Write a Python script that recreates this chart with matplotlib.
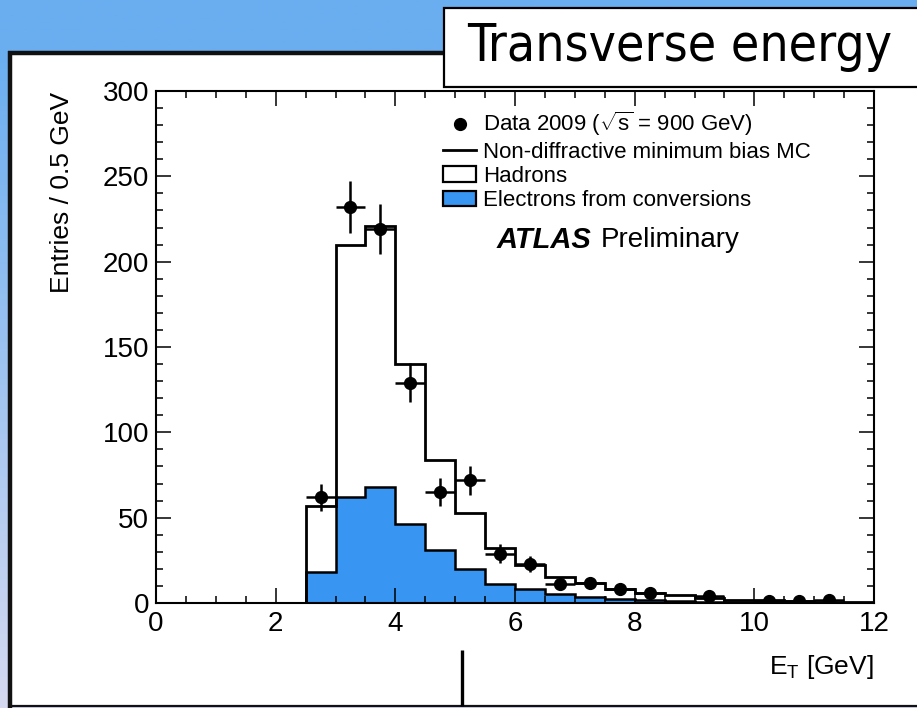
import numpy as np
import matplotlib
matplotlib.use("Agg")
import matplotlib.pyplot as plt
from matplotlib.lines import Line2D
from matplotlib.patches import Patch, Rectangle

# ---- histogram data (0.5 GeV bins) ----
bin_edges = [0.0, 0.5, 1.0, 1.5, 2.0, 2.5, 3.0, 3.5, 4.0, 4.5, 5.0, 5.5, 6.0,
             6.5, 7.0, 7.5, 8.0, 8.5, 9.0, 9.5, 10.0, 10.5, 11.0, 11.5, 12.0]
mc_total = [0, 0, 0, 0, 0, 57, 210, 221, 140, 84, 53, 32, 22,
            15.5, 12, 8, 6, 4.5, 3, 2, 1.5, 1, 0.8, 0.5]
mc_electrons = [0, 0, 0, 0, 0, 18, 62, 68, 46, 31, 20, 11, 8,
                5.5, 3.5, 2.5, 2, 1, 0.8, 0.5, 0.3, 0.2, 0.2, 0.1]

data_x = [2.75, 3.25, 3.75, 4.25, 4.75, 5.25, 5.75, 6.25, 6.75, 7.25,
          7.75, 8.25, 9.25, 10.25, 10.75, 11.25]
data_y = [62, 232, 219, 129, 65, 72, 29, 23, 11, 12, 8, 6, 4, 1, 1, 2]
data_err = [7.9, 15.2, 14.8, 11.4, 8.1, 8.5, 5.4, 4.8, 3.3, 3.5, 2.8,
            2.4, 2.0, 1.0, 1.0, 1.4]
data_xerr = 0.25

x_ticks = [0, 2, 4, 6, 8, 10, 12]
y_ticks = [0, 50, 100, 150, 200, 250, 300]

BLUE = "#3896f2"
W, H = 917, 708

plt.rcParams["font.family"] = ["Liberation Sans", "DejaVu Sans"]
plt.rcParams["mathtext.fontset"] = "custom"
plt.rcParams["mathtext.rm"] = "Liberation Sans"
plt.rcParams["mathtext.it"] = "Liberation Sans:italic"
plt.rcParams["mathtext.bf"] = "Liberation Sans:bold"

fig = plt.figure(figsize=(W / 100, H / 100), dpi=100)

# ---- slide background: blue band fading to lavender, white panel ----
bg = fig.add_axes([0, 0, 1, 1], zorder=-10)
bg.set_xlim(0, W)
bg.set_ylim(H, 0)
bg.axis("off")
top_col = np.array([106, 174, 240]) / 255
bot_col = np.array([214, 218, 240]) / 255
rows = np.linspace(0, 1, 300)
t = np.clip((rows * H - 50) / (H - 50), 0, 1)[:, None]
grad = top_col * (1 - t) + bot_col * t
bg.imshow(grad[:, None, :], extent=[0, W, H, 0], aspect="auto", zorder=0)

bg.add_patch(Rectangle((9.5, 53), W + 20, 652.5, facecolor="white",
                       edgecolor="none", zorder=1))
bg.plot([9.5, 9.5], [51, H + 2], color="#111111", lw=3.2, zorder=2,
        solid_capstyle="butt")
bg.plot([8, W + 2], [53, 53], color="#111111", lw=3.2, zorder=2,
        solid_capstyle="butt")
bg.plot([8, W + 2], [705.8, 705.8], color="#111111", lw=1.6, zorder=2,
        solid_capstyle="butt")
bg.plot([462, 462], [650, 706], color="black", lw=2.4, zorder=2,
        solid_capstyle="butt")

# title box
bg.add_patch(Rectangle((443.5, 8), W + 20, 79, facecolor="white",
                       edgecolor="black", lw=1.6, zorder=3))
bg.text(467, 47, "Transverse energy", fontsize=37, ha="left", va="center",
        family="DejaVu Sans", fontstretch="condensed", zorder=4)

# ---- main histogram axes ----
ax = fig.add_axes([156 / W, 1 - 603 / H, (874 - 156) / W, (603 - 91) / H])
ax.set_facecolor("white")

ax.stairs(mc_electrons, bin_edges, fill=True, color=BLUE, zorder=1)
ax.stairs(mc_electrons, bin_edges, color="black", lw=1.8, zorder=2)
ax.stairs(mc_total, bin_edges, color="black", lw=2.0, zorder=3)
ax.errorbar(data_x, data_y, yerr=data_err, xerr=data_xerr, fmt="o",
            color="black", ms=8.5, elinewidth=1.8, capsize=0, zorder=4)

ax.set_xlim(0, 12)
ax.set_ylim(0, 300)
ax.set_xticks(x_ticks)
ax.set_yticks(y_ticks)
ax.set_xticks(np.arange(0, 12.01, 0.5), minor=True)
ax.set_yticks(np.arange(0, 300.1, 10), minor=True)
ax.tick_params(which="both", direction="in", top=True, right=True,
               width=1.1, labelsize=20)
ax.tick_params(which="major", length=10.5)
ax.tick_params(which="minor", length=5.2)
ax.tick_params(axis="x", pad=6)
ax.tick_params(axis="y", pad=5)
for sp in ax.spines.values():
    sp.set_linewidth(1.5)

fig.text(62 / W, 1 - 92 / H, "Entries / 0.5 GeV", rotation=90,
         ha="center", va="top", fontsize=19)
fig.text(874 / W, 1 - 667 / H, r"E$_\mathrm{T}$ [GeV]", ha="right",
         va="center", fontsize=19)

# legend
handles = [
    Line2D([], [], marker="o", ls="none", color="black", ms=8.5),
    Line2D([], [], color="black", lw=2.0),
    Patch(facecolor="white", edgecolor="black", lw=1.6),
    Patch(facecolor=BLUE, edgecolor="black", lw=1.6),
]
labels = [
    r"Data 2009 ($\sqrt{\mathrm{s}}$ = 900 GeV)",
    "Non-diffractive minimum bias MC",
    "Hadrons",
    "Electrons from conversions",
]
ax.legend(handles, labels, loc="upper left",
          bbox_to_anchor=((443 - 156) / 718, (603 - 110) / 512),
          frameon=False, fontsize=16, handlelength=1.5, handleheight=0.7,
          handletextpad=0.3, borderpad=0, borderaxespad=0,
          labelspacing=0.15)

ax.text((497 - 156) / 718, (603 - 240) / 512, "ATLAS", transform=ax.transAxes,
        fontsize=21, fontweight="bold", fontstyle="italic", ha="left",
        va="center")
ax.text((601 - 156) / 718, (603 - 240) / 512, "Preliminary",
        transform=ax.transAxes, fontsize=20, ha="left", va="center")

fig.savefig("out.png", dpi=100)
